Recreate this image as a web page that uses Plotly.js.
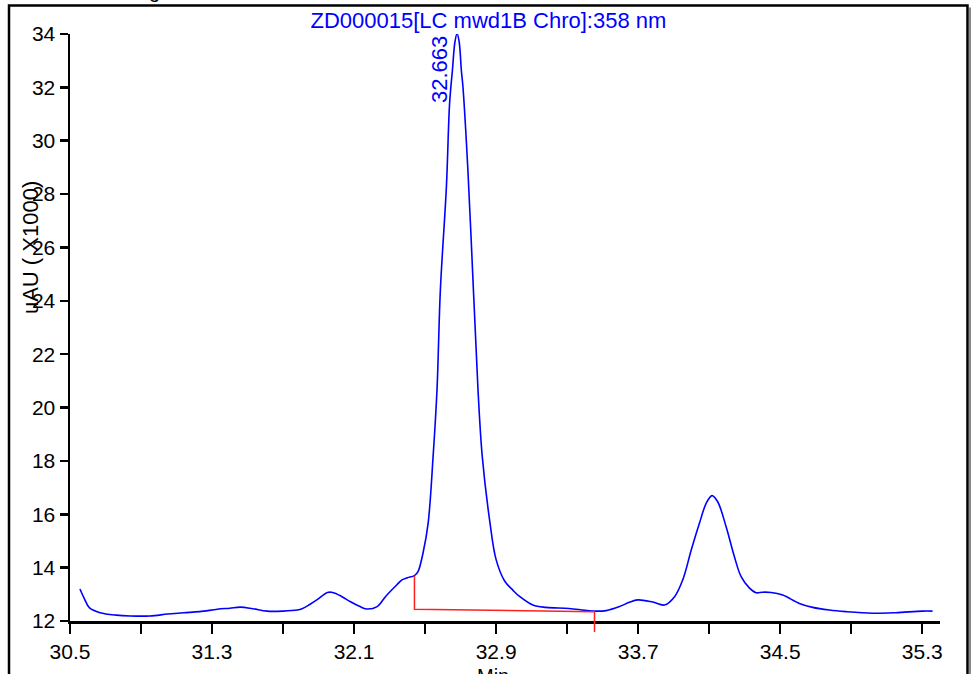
<!DOCTYPE html>
<html>
<head>
<meta charset="utf-8">
<script src="https://cdn.plot.ly/plotly-3.0.1.min.js"></script>
<style>html,body{margin:0;padding:0;background:#fff;}#chart{width:971px;height:674px;}</style>
</head>
<body>
<div id="chart"></div>
<script>
// Chromatogram trace (minutes, uAU x1000)
const times = [30.556,30.58,30.61,30.67,30.76,30.84,30.95,31.05,31.14,31.23,31.33,31.40,31.46,31.53,31.61,31.70,31.78,31.81,31.85,31.89,31.95,31.98,32.03,32.08,32.13,32.17,32.23,32.28,32.34,32.37,32.40,32.44,32.46,32.488,32.517,32.545,32.567,32.586,32.62,32.638,32.654,32.668,32.680,32.692,32.704,32.713,32.741,32.773,32.798,32.822,32.865,32.90,32.948,32.995,33.032,33.107,33.18,33.31,33.40,33.454,33.52,33.595,33.65,33.698,33.782,33.848,33.905,33.951,33.999,34.045,34.083,34.116,34.148,34.195,34.242,34.28,34.327,34.364,34.40,34.449,34.514,34.608,34.683,34.777,34.87,35.02,35.15,35.30,35.358];
const signal = [13.20,12.85,12.49,12.31,12.22,12.19,12.19,12.26,12.31,12.35,12.44,12.48,12.52,12.46,12.37,12.37,12.41,12.47,12.62,12.79,13.07,13.07,12.92,12.72,12.55,12.45,12.54,12.94,13.35,13.54,13.62,13.70,13.85,14.54,15.66,18.16,20.66,24.41,28.28,31.40,32.65,33.70,34.02,33.70,32.65,32.03,28.90,24.28,20.66,18.16,15.70,14.30,13.50,13.15,12.92,12.60,12.51,12.47,12.40,12.37,12.39,12.54,12.70,12.79,12.71,12.60,12.91,13.54,14.66,15.66,16.41,16.70,16.47,15.54,14.41,13.66,13.23,13.06,13.08,13.07,12.97,12.66,12.51,12.41,12.35,12.29,12.31,12.37,12.37];

// Integration baseline
const baseX = [32.44, 32.44, 33.454, 33.454];
const baseY = [13.70, 12.44, 12.35, 12.0];

// Peak label
const peakTime = 32.663;
const peakLabel = "32.663";
const peakTop = 34;

// Axis ticks
const xTickVals = [30.5,30.9,31.3,31.7,32.1,32.5,32.9,33.3,33.7,34.1,34.5,34.9,35.3];
const xTickText = ["30.5","","31.3","","32.1","","32.9","","33.7","","34.5","","35.3"];
const yTickVals = [12,14,16,18,20,22,24,26,28,30,32,34];

const FONT = "Liberation Sans, Arial, sans-serif";

const traces = [
  {x: times, y: signal, type: 'scatter', mode: 'lines',
   line: {color: '#0000ff', width: 1.6, shape: 'spline', smoothing: 1}, hoverinfo: 'skip'},
  {x: baseX, y: baseY, type: 'scatter', mode: 'lines',
   line: {color: '#ff2020', width: 1.5}, hoverinfo: 'skip'}
];

const layout = {
  width: 971, height: 674,
  margin: {l: 70, r: 31, t: 34, b: 53},
  paper_bgcolor: '#fff', plot_bgcolor: '#fff',
  showlegend: false,
  font: {family: FONT, size: 20, color: '#000'},
  title: {text: 'ZD000015[LC mwd1B Chro]:358 nm', font: {family: FONT, size: 22, color: '#0000ff'},
          xref: 'container', x: 0.503, xanchor: 'center', yref: 'container', y: 0.97, yanchor: 'middle'},
  xaxis: {range: [30.5, 35.4], tickmode: 'array', tickvals: xTickVals, ticktext: xTickText,
          ticks: 'outside', ticklen: 10, tickwidth: 2.5, tickcolor: '#000',
          showline: true, linecolor: '#000', linewidth: 2.5, showgrid: false, zeroline: false,
          tickfont: {family: FONT, size: 21, color: '#000'}},
  yaxis: {range: [12, 34], tickmode: 'array', tickvals: yTickVals,
          ticks: 'outside', ticklen: 8, tickwidth: 2.5, tickcolor: '#000',
          showline: true, linecolor: '#000', linewidth: 2.5, showgrid: false, zeroline: false,
          tickfont: {family: FONT, size: 21, color: '#000'}},
  annotations: [
    {x: peakTime, y: peakTop, xref: 'x', yref: 'y', text: peakLabel, textangle: -90, showarrow: false,
     xanchor: 'right', yanchor: 'top', font: {family: FONT, size: 22, color: '#0000ff'}},
    {x: -0.046, y: 0.637, xref: 'paper', yref: 'paper', text: 'uAU ( X1000)', textangle: -90, showarrow: false,
     xanchor: 'center', yanchor: 'middle', font: {family: FONT, size: 22, color: '#000'}},
    {x: 0.486, y: -0.0716, xref: 'paper', yref: 'paper', text: 'Min', showarrow: false,
     xanchor: 'center', yanchor: 'top', font: {family: FONT, size: 20, color: '#000'}},
    {x: 0.0977, y: 1.0511, xref: 'paper', yref: 'paper', text: 'g', showarrow: false,
     xanchor: 'center', yanchor: 'bottom', font: {family: FONT, size: 20, color: '#000'}}
  ],
  shapes: [
    {type: 'rect', xref: 'paper', yref: 'paper', x0: -0.0701, x1: 1.0316, y0: -0.13, y1: 1.0486,
     line: {color: '#000', width: 2.5}, fillcolor: 'rgba(0,0,0,0)', layer: 'below'},
    {type: 'line', xref: 'paper', yref: 'paper', x0: 1.0345, x1: 1.0345, y0: -0.13, y1: 1.045,
     line: {color: '#888', width: 2}},
    {type: 'line', xref: 'x', yref: 'paper', x0: baseX[2], x1: baseX[3], y0: 0, y1: -0.0187,
     line: {color: '#ff2020', width: 1.5}}
  ]
};

Plotly.newPlot('chart', traces, layout, {staticPlot: true, displayModeBar: false});
</script>
</body>
</html>
